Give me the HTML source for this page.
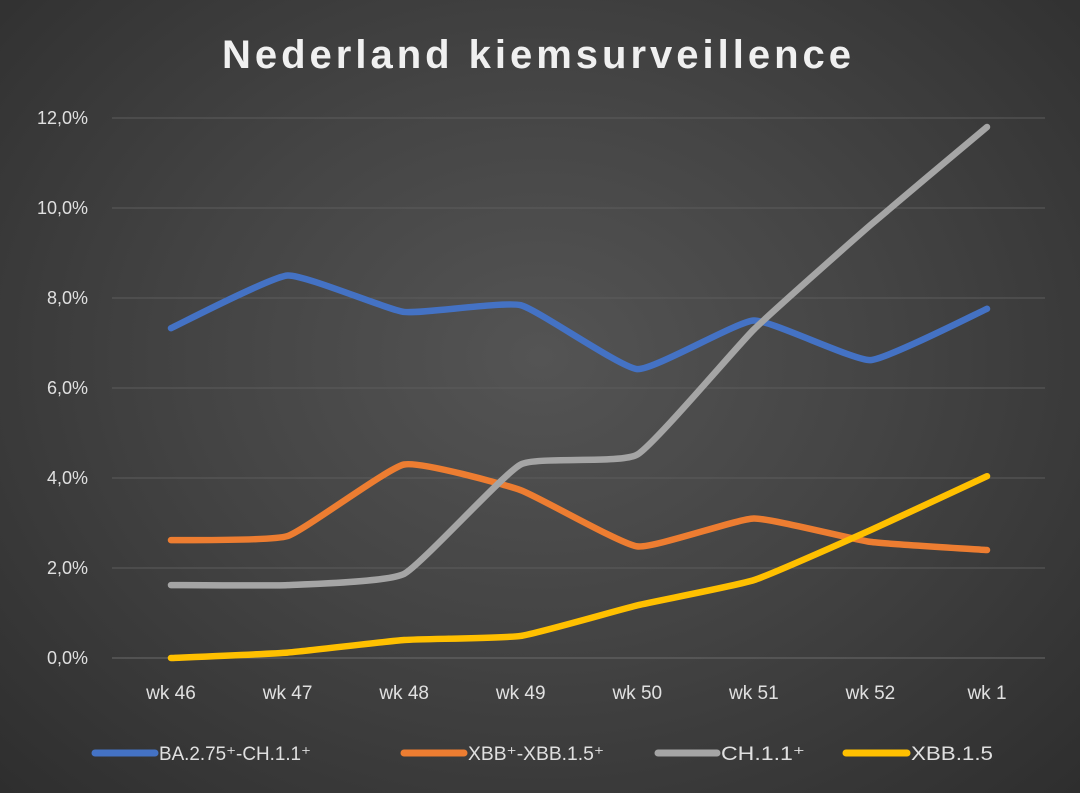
<!DOCTYPE html>
<html><head><meta charset="utf-8"><style>
html,body{margin:0;padding:0;width:1080px;height:793px;overflow:hidden;}
body{background:radial-gradient(ellipse at 50% 45%,#545454 0%,#444 45%,#2e2e2e 100%);font-family:"Liberation Sans",sans-serif;}
svg{position:absolute;left:0;top:0}
</style></head><body>
<svg width="1080" height="793">
<text x="538" y="68" text-anchor="middle" fill="#f0f0f0" font-size="40" font-weight="bold" letter-spacing="3" textLength="632">Nederland kiemsurveillence</text>
<g id="grid"></g><g id="yt"></g><g id="xt"></g><g id="series"></g><g id="legend"></g>
</svg>
<script>
const categories=["wk 46","wk 47","wk 48","wk 49","wk 50","wk 51","wk 52","wk 1"];
const yTicks=[0,2,4,6,8,10,12];
const seriesNames=["BA.2.75\u207A-CH.1.1\u207A","XBB\u207A-XBB.1.5\u207A","CH.1.1\u207A","XBB.1.5"];
const seriesColors=["#4472c4","#ed7d31","#a5a5a5","#ffc000"];
const baValues=[7.33,8.5,7.69,7.84,6.42,7.5,6.62,7.76];
const xbbValues=[2.62,2.71,4.3,3.73,2.48,3.1,2.58,2.4];
const chValues=[1.62,1.62,1.87,4.3,4.52,7.3,9.62,11.8];
const xbb15Values=[0,0.12,0.4,0.49,1.17,1.73,2.84,4.04];
const allValues=[baValues,xbbValues,chValues,xbb15Values];
const NS="http://www.w3.org/2000/svg";
const x=i=>171+i*(987-171)/7;
const y=v=>658-v*(658-118)/12;
function mk(t,a,p){const e=document.createElementNS(NS,t);for(const k in a)e.setAttribute(k,a[k]);p.appendChild(e);return e;}
const grid=document.getElementById('grid'),yt=document.getElementById('yt'),xt=document.getElementById('xt');
yTicks.forEach(v=>{
 const l=mk('line',{x1:112,x2:1045,y1:y(v),y2:y(v),stroke:v===0?'#6a6a6a':'#5c5c5c','stroke-width':1},grid);
 
 
 const t=mk('text',{x:88,y:y(v)+6,'text-anchor':'end',fill:'#e0e0e0','font-size':18},yt);
 t.textContent=v.toFixed(1).replace('.',',')+'%';
 
 
});
categories.forEach((c,i)=>{
 const t=mk('text',{x:x(i),y:699,'text-anchor':'middle',fill:'#e0e0e0','font-size':19},xt);
 t.textContent=c;
 
 
});
function smooth(vals){
 const p=vals.map((v,i)=>[x(i),y(v)]);let d='M'+p[0][0]+','+p[0][1];
 const k=0.07;
 for(let i=0;i<p.length-1;i++){
  const p0=p[Math.max(0,i-1)],p1=p[i],p2=p[i+1],p3=p[Math.min(p.length-1,i+2)];
  const c1=[p1[0]+(p2[0]-p0[0])*k,p1[1]+(p2[1]-p0[1])*k];
  const c2=[p2[0]-(p3[0]-p1[0])*k,p2[1]-(p3[1]-p1[1])*k];
  d+=' C'+c1+' '+c2+' '+p2;
 }
 return d;
}
const sg=document.getElementById('series');
allValues.forEach((vals,s)=>{
 const pth=mk('path',{d:smooth(vals),fill:'none',stroke:seriesColors[s],'stroke-width':6.5,'stroke-linecap':'round','stroke-linejoin':'round'},sg);
 
 
});
const lg=document.getElementById('legend');
const labX=[159,468,721,911];const lineX=[92,401,655,843];const labW=[152,136,84,82];
seriesNames.forEach((n,s)=>{
 const l=mk('line',{x1:lineX[s]+3,x2:labX[s]-4,y1:753,y2:753,stroke:seriesColors[s],'stroke-width':7,'stroke-linecap':'round'},lg);
 
 
 const t=mk('text',{x:labX[s],y:760,fill:'#e0e0e0','font-size':19,textLength:labW[s],lengthAdjust:'spacingAndGlyphs'},lg);
 t.textContent=n;
 
 
});
</script>
</body></html>
